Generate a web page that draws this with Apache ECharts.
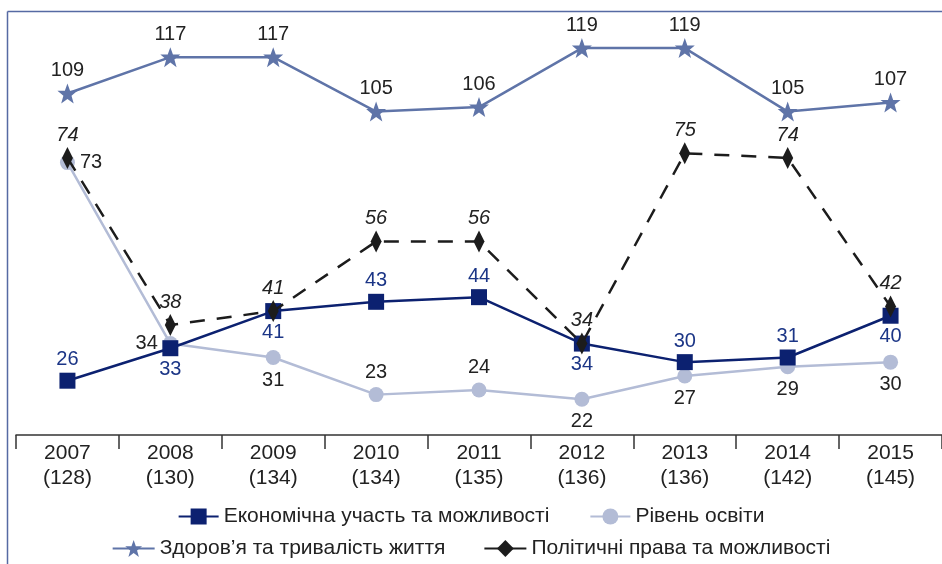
<!DOCTYPE html>
<html>
<head>
<meta charset="utf-8">
<script src="https://cdn.jsdelivr.net/npm/echarts@6/dist/echarts.min.js"></script>
<style>
  html, body { margin: 0; padding: 0; background: #fff; }
  #chart { width: 942px; height: 564px; }
</style>
</head>
<body>
<div id="chart"></div>
<script>
// роки та місце України в рейтингу
var years = ['2007', '2008', '2009', '2010', '2011', '2012', '2013', '2014', '2015'];
var ranks = ['128', '130', '134', '134', '135', '136', '136', '142', '145'];

var econ = [26, 33, 41, 43, 44, 34, 30, 31, 40];
var edu = [73, 34, 31, 23, 24, 22, 27, 29, 30];
var health = [109, 117, 117, 105, 106, 119, 119, 105, 107];
var politics = [74, 38, 41, 56, 56, 34, 75, 74, 42];

// де стоїть підпис біля точки
var econPos = ['top', 'bottom', 'bottom', 'top', 'top', 'bottom', 'top', 'top', 'bottom'];
var eduPos = ['right', 'left', 'bottom', 'top', 'top', 'bottom', 'bottom', 'bottom', 'bottom'];

var names = ['Економічна участь та можливості', 'Рівень освіти', 'Здоров’я та тривалість життя', 'Політичні права та можливості'];

var font = 'Liberation Sans, Arial, sans-serif';

function withPos(vals, pos) {
    return vals.map(function (v, i) {
        return { value: v, label: { position: pos[i] } };
    });
}

var chart = echarts.init(document.getElementById('chart'));

var option = {
    animation: false,
    backgroundColor: '#fff',
    grid: { left: 16, right: -3, top: 15, bottom: 129 },
    graphic: [
        // рамка зверху і зліва
        { type: 'line', shape: { x1: 7.5, y1: 11.5, x2: 942, y2: 11.5 }, style: { stroke: '#566aa3', lineWidth: 1.5 }, silent: true },
        { type: 'line', shape: { x1: 7.5, y1: 11.5, x2: 7.5, y2: 564 }, style: { stroke: '#566aa3', lineWidth: 1.5 }, silent: true }
    ],
    xAxis: {
        type: 'category',
        data: years,
        boundaryGap: true,
        axisLine: { lineStyle: { color: '#333', width: 1.5 } },
        axisTick: { show: true, inside: false, length: 14, interval: 0, lineStyle: { color: '#333', width: 1.5 } },
        axisLabel: {
            interval: 0,
            margin: 6,
            color: '#222',
            fontSize: 21,
            lineHeight: 25,
            fontFamily: font,
            formatter: function (v, i) { return v + '\n(' + ranks[i] + ')'; }
        }
    },
    yAxis: [
        { type: 'value', min: 14.3, max: 104.8, show: false, splitLine: { show: false } },
        { type: 'value', min: 33.7, max: 126.3, show: false, splitLine: { show: false } }
    ],
    legend: [
        {
            data: [names[0], names[1]],
            top: 501, left: 'center',
            itemWidth: 40, itemHeight: 20, itemGap: 40,
            textStyle: { fontSize: 21, color: '#222', fontFamily: font }
        },
        {
            data: [names[2], { name: names[3], lineStyle: { type: 'solid' } }],
            top: 533, left: 'center',
            itemWidth: 42, itemHeight: 21, itemGap: 38,
            textStyle: { fontSize: 21, color: '#222', fontFamily: font }
        }
    ],
    series: [
        {
            name: names[1],
            type: 'line',
            data: withPos(edu, eduPos),
            symbol: 'circle',
            symbolSize: 15,
            z: 2,
            lineStyle: { color: '#b3bcd6', width: 2.5 },
            itemStyle: { color: '#b3bcd6' },
            label: { show: true, distance: 5, fontSize: 20, color: '#222', fontFamily: font }
        },
        {
            name: names[0],
            type: 'line',
            data: withPos(econ, econPos),
            symbol: 'rect',
            symbolSize: 16,
            z: 3,
            lineStyle: { color: '#0c2170', width: 2.5 },
            itemStyle: { color: '#0c2170' },
            label: { show: true, distance: 3, fontSize: 20, color: '#1b3586', fontFamily: font }
        },
        {
            name: names[2],
            type: 'line',
            yAxisIndex: 1,
            data: health,
            symbol: 'path://M50,0 L62.5,34 L98,34 L69.5,56.5 L80,92 L50,71 L20,92 L30.5,56.5 L2,34 L37.5,34 Z',
            symbolSize: 20,
            z: 4,
            lineStyle: { color: '#5f74a8', width: 2.5 },
            itemStyle: { color: '#5f74a8' },
            label: { show: true, position: 'top', distance: 3, fontSize: 20, color: '#222', fontFamily: font }
        },
        {
            name: names[3],
            type: 'line',
            data: politics,
            symbol: 'diamond',
            symbolSize: [11, 22],
            z: 5,
            lineStyle: { color: '#1c1c1c', width: 2.5, type: [15, 12] },
            itemStyle: { color: '#1c1c1c' },
            label: { show: true, position: 'top', distance: 2, fontSize: 20, fontStyle: 'italic', color: '#222', fontFamily: font }
        }
    ]
};

chart.setOption(option);
</script>
</body>
</html>
